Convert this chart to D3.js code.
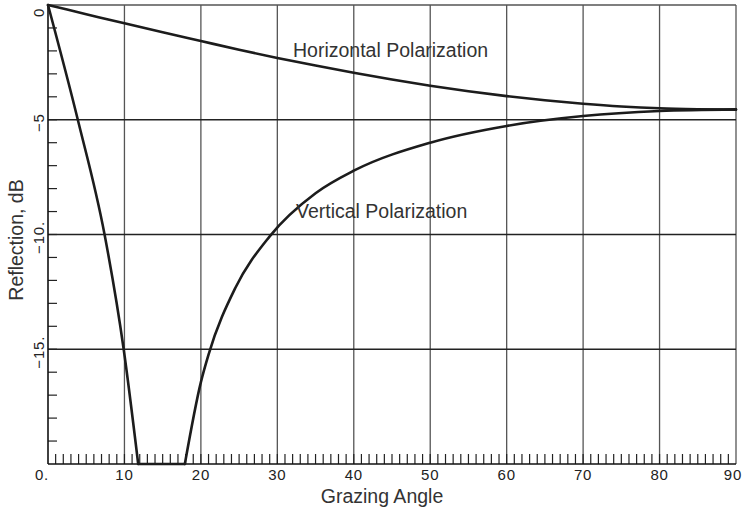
<!DOCTYPE html>
<html>
<head>
<meta charset="utf-8">
<script src="https://cdn.jsdelivr.net/npm/d3@7"></script>
<style>
  body { margin: 0; background: #fff; }
  svg { display: block; font-family: "Liberation Sans", Arial, sans-serif; }
</style>
</head>
<body>
<svg id="chart" width="743" height="510"></svg>
<script>
// horizontal polarization
const horizAngle = [0, 5, 10, 15, 20, 25, 30, 35, 40, 45, 50, 55, 60, 65, 70, 75, 80, 85, 90];
const horizDb = [0, -0.40, -0.80, -1.19, -1.57, -1.95, -2.31, -2.64, -2.95, -3.25, -3.52, -3.76, -3.97, -4.15, -4.30, -4.42, -4.50, -4.54, -4.56];

// vertical polarization: steep fall, clipped floor, then the slow rise
const vertFallAngle = [0, 3.9, 7.4, 9.9, 11.8];
const vertFallDb = [0, -5, -10, -15, -20];
const vertFloorAngle = [11.8, 17.9];
const vertFloorDb = [-20, -20];
const vertRiseAngle = [17.9, 20, 21, 24.5, 29, 35, 40, 50, 60, 70, 80, 90];
const vertRiseDb = [-20, -16.43, -15.23, -12.33, -10.08, -8.2, -7.22, -6.0, -5.27, -4.84, -4.62, -4.55];

const xMajor = [0, 10, 20, 30, 40, 50, 60, 70, 80, 90];
const xTickLabels = ['0.', '10', '20', '30', '40', '50', '60', '70', '80', '90'];
const yMajor = [0, -5, -10, -15];
const yTickLabels = ['0', '\u22125', '\u221210.', '\u221215.'];

const svg = d3.select('#chart');
const width = +svg.attr('width');
const height = +svg.attr('height');
const margin = { top: 5, right: 7, bottom: 46, left: 48 };

const x = d3.scaleLinear().domain([0, 90]).range([margin.left, width - margin.right]);
const y = d3.scaleLinear().domain([-20, 0]).range([height - margin.bottom, margin.top]);

const x0 = x(0), x1 = x(90), yTop = y(0), yBot = y(-20);

// vertical grid lines (grey)
svg.append('g')
  .selectAll('line')
  .data(xMajor.filter(d => d > 0))
  .join('line')
  .attr('x1', d => x(d)).attr('x2', d => x(d))
  .attr('y1', yTop).attr('y2', yBot)
  .attr('stroke', '#555').attr('stroke-width', 1.3);

// top line at 0 dB
svg.append('line')
  .attr('x1', x0).attr('x2', x1).attr('y1', yTop).attr('y2', yTop)
  .attr('stroke', '#555').attr('stroke-width', 1.3);

// horizontal grid lines at -5, -10, -15 (dark)
svg.append('g')
  .selectAll('line')
  .data(yMajor.filter(d => d < 0))
  .join('line')
  .attr('x1', x0).attr('x2', x1)
  .attr('y1', d => y(d)).attr('y2', d => y(d))
  .attr('stroke', '#222').attr('stroke-width', 1.6);

// minor ticks, x every degree (pointing up), y every dB (pointing right)
svg.append('g')
  .selectAll('line')
  .data(d3.range(1, 90))
  .join('line')
  .attr('x1', d => x(d)).attr('x2', d => x(d))
  .attr('y1', yBot).attr('y2', yBot - 10)
  .attr('stroke', '#222').attr('stroke-width', 1.2);

svg.append('g')
  .selectAll('line')
  .data(d3.range(-19, 0))
  .join('line')
  .attr('x1', x0).attr('x2', x0 + 9)
  .attr('y1', d => y(d)).attr('y2', d => y(d))
  .attr('stroke', '#222').attr('stroke-width', 1.2);

// axis lines
svg.append('line')
  .attr('x1', x0).attr('x2', x0).attr('y1', yTop).attr('y2', yBot)
  .attr('stroke', '#111').attr('stroke-width', 1.6);
svg.append('line')
  .attr('x1', x0).attr('x2', x1).attr('y1', yBot).attr('y2', yBot)
  .attr('stroke', '#111').attr('stroke-width', 1.6);

// curves
const pts = (a, b) => a.map((d, i) => ({ x: d, y: b[i] }));
const lineLin = d3.line().x(d => x(d.x)).y(d => y(d.y));
const lineSmooth = d3.line().x(d => x(d.x)).y(d => y(d.y)).curve(d3.curveMonotoneX);

const curveStyle = sel => sel
  .attr('fill', 'none')
  .attr('stroke', '#1c1c1c')
  .attr('stroke-width', 2.6)
  .attr('stroke-linejoin', 'round')
  .attr('stroke-linecap', 'round');

svg.append('path').attr('d', lineSmooth(pts(horizAngle, horizDb))).call(curveStyle);
svg.append('path').attr('d', lineSmooth(pts(vertFallAngle, vertFallDb))).call(curveStyle);
svg.append('path').attr('d', lineLin(pts(vertFloorAngle, vertFloorDb))).call(curveStyle);
svg.append('path').attr('d', lineSmooth(pts(vertRiseAngle, vertRiseDb))).call(curveStyle);

// tick labels
svg.append('g')
  .selectAll('text')
  .data(xMajor)
  .join('text')
  .attr('x', (d, i) => x(d) + (i === 0 ? -6 : i === xMajor.length - 1 ? -3 : 0))
  .attr('y', yBot + 16)
  .attr('text-anchor', 'middle')
  .attr('font-size', 15)
  .attr('letter-spacing', 0.8)
  .attr('fill', '#222')
  .text((d, i) => xTickLabels[i]);

svg.append('g')
  .selectAll('text')
  .data(yMajor)
  .join('text')
  .attr('transform', (d, i) => `translate(${x0 - 4},${i === 0 ? y(d) + 12 : y(d) + 3}) rotate(-90)`)
  .attr('text-anchor', (d, i) => i === 0 ? 'start' : 'middle')
  .attr('font-size', 15)
  .attr('letter-spacing', 0.8)
  .attr('fill', '#222')
  .text((d, i) => yTickLabels[i]);

// axis titles
svg.append('text')
  .attr('x', 382).attr('y', 503)
  .attr('text-anchor', 'middle')
  .attr('font-size', 19.5)
  .attr('fill', '#333')
  .text('Grazing Angle');

svg.append('text')
  .attr('transform', 'translate(23,240) rotate(-90)')
  .attr('text-anchor', 'middle')
  .attr('font-size', 19.5)
  .attr('fill', '#333')
  .text('Reflection, dB');

// curve labels
svg.append('text')
  .attr('x', 293).attr('y', 57)
  .attr('font-size', 19.5)
  .attr('fill', '#333')
  .text('Horizontal Polarization');

svg.append('text')
  .attr('x', 296).attr('y', 218)
  .attr('font-size', 19.5)
  .attr('fill', '#333')
  .text('Vertical Polarization');
</script>
</body>
</html>
